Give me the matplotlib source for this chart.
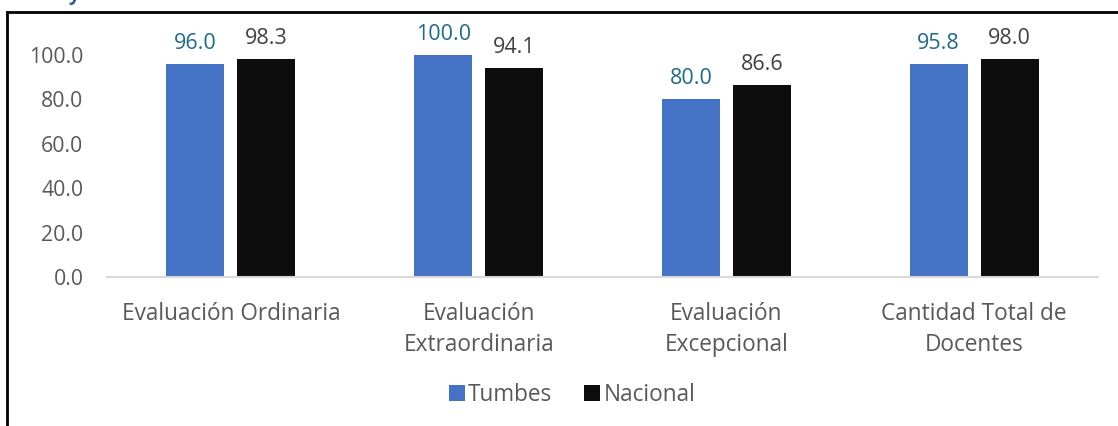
import numpy as np
import matplotlib.pyplot as plt
from matplotlib.lines import Line2D

categories = ["Evaluación Ordinaria", "Evaluación\nExtraordinaria",
              "Evaluación\nExcepcional", "Cantidad Total de\nDocentes"]
tumbes = [96.0, 100.0, 80.0, 95.8]
nacional = [98.3, 94.1, 86.6, 98.0]

plt.rcParams['font.family'] = ['Open Sans', 'DejaVu Sans']

W, H = 1118, 426
fig = plt.figure(figsize=(W / 100, H / 100), dpi=100)
ax = fig.add_axes([107 / W, (H - 277) / H, 991 / W, 222 / H])

x = np.arange(len(categories))
bw = 0.234
off = 0.143
b1 = ax.bar(x - off, tumbes, bw, color='#4472C4', label='Tumbes')
b2 = ax.bar(x + off, nacional, bw, color='#0D0D0D', label='Nacional')

for rect, v in zip(b1, tumbes):
    ax.text(rect.get_x() + rect.get_width() / 2, v + 4.5, f"{v:.1f}",
            ha='center', va='bottom', fontsize=15.5, color='#1F6A8C', clip_on=False)
for rect, v in zip(b2, nacional):
    ax.text(rect.get_x() + rect.get_width() / 2, v + 4.5, f"{v:.1f}",
            ha='center', va='bottom', fontsize=15.5, color='#404040', clip_on=False)

ax.set_xlim(-0.5, 3.5)
ax.set_ylim(0, 100)
ax.set_yticks(np.arange(0, 101, 20))
ax.set_yticklabels([f"{t:.1f}" for t in np.arange(0, 101, 20)])
ax.set_xticks(x)
ax.set_xticklabels(categories, linespacing=1.4)
ax.tick_params(axis='y', length=0, labelsize=15.3, labelcolor='#595959', pad=17)
ax.tick_params(axis='x', length=0, labelsize=16.3, labelcolor='#595959', pad=18)
for s in ['top', 'right', 'left']:
    ax.spines[s].set_visible(False)
ax.spines['bottom'].set_color('#D9D9D9')
ax.spines['bottom'].set_linewidth(1.5)

fig.legend(handles=[b1, b2], labels=['Tumbes', 'Nacional'], loc='center',
           bbox_to_anchor=(572 / W, (H - 395) / H), ncol=2, frameon=False,
           fontsize=16.3, labelcolor='#595959', handlelength=0.7, handleheight=0.7,
           handletextpad=0.15, columnspacing=1.4)

# outer frame (cropped)
fig.add_artist(Line2D([7 / W, 7 / W], [0, (H - 12) / H], color='black', lw=2))
fig.add_artist(Line2D([7 / W, 1], [(H - 12) / H, (H - 12) / H], color='black', lw=2))
# cut-off heading fragment
fig.text(68 / W, (H - 5) / H, "y", color='#2F5597', fontsize=14,
         fontweight='bold', va='bottom')

fig.savefig('out.png', dpi=100)
